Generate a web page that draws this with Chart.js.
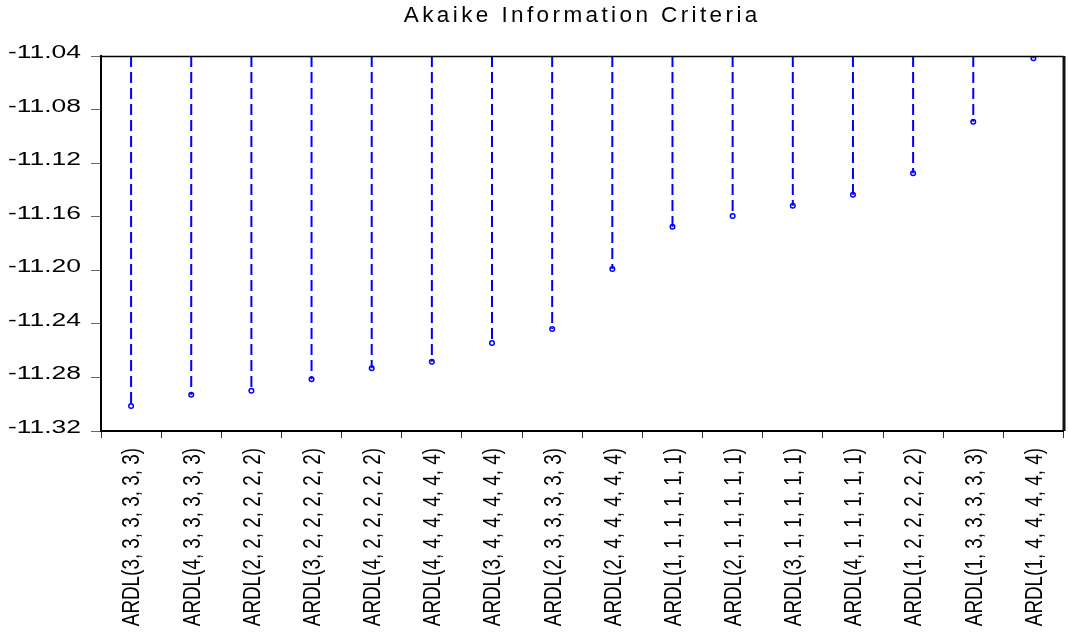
<!DOCTYPE html>
<html>
<head>
<meta charset="utf-8">
<script src="https://cdn.jsdelivr.net/npm/chart.js@4/dist/chart.umd.min.js"></script>
<style>
  html, body { margin: 0; padding: 0; background: #ffffff; }
  #wrap { width: 1069px; height: 632px; }
</style>
</head>
<body>
<div id="wrap"><canvas id="c" width="1069" height="632"></canvas></div>
<script>
// ARDL model specifications, in the order they are ranked
const models = [
  'ARDL(3, 3, 3, 3, 3, 3)',
  'ARDL(4, 3, 3, 3, 3, 3)',
  'ARDL(2, 2, 2, 2, 2, 2)',
  'ARDL(3, 2, 2, 2, 2, 2)',
  'ARDL(4, 2, 2, 2, 2, 2)',
  'ARDL(4, 4, 4, 4, 4, 4)',
  'ARDL(3, 4, 4, 4, 4, 4)',
  'ARDL(2, 3, 3, 3, 3, 3)',
  'ARDL(2, 4, 4, 4, 4, 4)',
  'ARDL(1, 1, 1, 1, 1, 1)',
  'ARDL(2, 1, 1, 1, 1, 1)',
  'ARDL(3, 1, 1, 1, 1, 1)',
  'ARDL(4, 1, 1, 1, 1, 1)',
  'ARDL(1, 2, 2, 2, 2, 2)',
  'ARDL(1, 3, 3, 3, 3, 3)',
  'ARDL(1, 4, 4, 4, 4, 4)'
];

// Akaike information criterion for each model
const aicValues = [
  -11.3013, -11.2929, -11.2899, -11.2814, -11.2732, -11.2683, -11.2543, -11.2438,
  -11.1990, -11.1675, -11.1595, -11.1518, -11.1436, -11.1276, -11.0891, -11.0417
];

// value axis ticks
const yTickValues = [-11.32, -11.28, -11.24, -11.20, -11.16, -11.12, -11.08, -11.04];
const yMin = yTickValues[0];
const yMax = yTickValues[yTickValues.length - 1];

const BLUE = '#0000ff';

// each stem runs from the top of the axis down to the model's value
const stems = [];
models.forEach((m, i) => {
  stems.push({ x: m, y: yMax });
  stems.push({ x: m, y: aicValues[i] });
  stems.push({ x: m, y: null });
});

const markers = models.map((m, i) => ({ x: m, y: aicValues[i] }));

// Wrap a scale's label drawing in a one-axis stretch anchored at the labels' edge:
// the value labels are drawn wide, the model labels narrow (condensed face).
function stretchLabels(scale, kx, ky, anchor) {
  if (scale._stretched) return;
  scale._stretched = true;
  // the label clip box would be stretched along with the text, so skip it
  scale._computeLabelArea = () => undefined;
  const draw = scale.drawLabels.bind(scale);
  scale.drawLabels = function (area) {
    const ctx = scale.ctx;
    const { x, y } = anchor(scale);
    ctx.save();
    ctx.letterSpacing = '0px';
    ctx.translate(x, y);
    ctx.scale(kx, ky);
    ctx.translate(-x, -y);
    draw(area);
    ctx.restore();
  };
}

// tracked title lettering, and the top and right edges of the plot frame
const framePlugin = {
  id: 'frame',
  beforeDraw(chart) {
    chart.ctx.letterSpacing = '3.4px';
  },
  beforeDatasetsDraw(chart) {
    chart.ctx.letterSpacing = '0px';
  },
  afterDraw(chart) {
    const { ctx, chartArea: a } = chart;
    ctx.save();
    ctx.strokeStyle = '#000000';
    ctx.lineWidth = 1.5;
    ctx.beginPath();
    ctx.moveTo(a.left, a.top + 0.5);
    ctx.lineTo(a.right, a.top + 0.5);
    ctx.stroke();
    ctx.lineWidth = 3;
    ctx.strokeStyle = '#111111';
    ctx.beginPath();
    ctx.moveTo(a.right + 0.5, a.top);
    ctx.lineTo(a.right + 0.5, a.bottom);
    ctx.stroke();
    ctx.restore();
  }
};

Chart.defaults.font.family = "'Liberation Sans', Arial, sans-serif";
Chart.defaults.color = '#000000';

const X_TICK = 7, X_PAD = 10;
const Y_TICK = 10, Y_PAD = 10;

new Chart(document.getElementById('c'), {
  type: 'line',
  data: {
    labels: models,
    datasets: [
      {
        data: stems,
        borderColor: BLUE,
        borderWidth: 2,
        borderDash: [11, 5],
        pointRadius: 0,
        pointHoverRadius: 0,
        spanGaps: false,
        tension: 0
      },
      {
        data: markers,
        showLine: false,
        pointStyle: 'circle',
        pointRadius: 2.3,
        pointBorderWidth: 1.5,
        pointBorderColor: BLUE,
        pointBackgroundColor: '#ffffff'
      }
    ]
  },
  options: {
    responsive: false,
    animation: false,
    events: [],
    layout: { padding: { left: 0, right: 1.5, top: 0, bottom: 0 } },
    plugins: {
      legend: { display: false },
      tooltip: { enabled: false },
      title: {
        display: true,
        text: 'Akaike Information Criteria',
        fullSize: false,
        color: '#000000',
        font: { size: 22.5, weight: 'normal', lineHeight: 1.2 },
        padding: { top: 2, bottom: 27.0 }
      }
    },
    scales: {
      x: {
        type: 'category',
        offset: true,
        grid: {
          offset: true,
          drawOnChartArea: false,
          drawTicks: true,
          tickLength: X_TICK,
          color: '#333333',
          lineWidth: 1
        },
        border: { display: true, color: '#000000', width: 2 },
        ticks: {
          autoSkip: false,
          minRotation: 90,
          maxRotation: 90,
          padding: X_PAD,
          labelOffset: 2,
          color: '#000000',
          font: { size: 23 }
        },
        afterFit(scale) {
          scale.height = 201;
          scale.paddingLeft = 0;
          scale.paddingRight = 0;
          stretchLabels(scale, 1, 0.82, s => ({ x: 0, y: s.top + X_TICK + X_PAD }));
        }
      },
      y: {
        min: yMin,
        max: yMax,
        grid: {
          drawOnChartArea: false,
          drawTicks: true,
          tickLength: Y_TICK,
          color: '#666666',
          lineWidth: 1
        },
        border: { display: true, color: '#000000', width: 2 },
        ticks: {
          padding: Y_PAD,
          labelOffset: -3,
          color: '#000000',
          font: { size: 18 },
          callback: (v) => Number(v).toFixed(2)
        },
        afterBuildTicks(scale) {
          scale.ticks = yTickValues.map(v => ({ value: v }));
        },
        afterFit(scale) {
          scale.width = 101;
          stretchLabels(scale, 1.47, 1, s => ({ x: s.right - Y_TICK - Y_PAD, y: 0 }));
        }
      }
    }
  },
  plugins: [framePlugin]
});
</script>
</body>
</html>
